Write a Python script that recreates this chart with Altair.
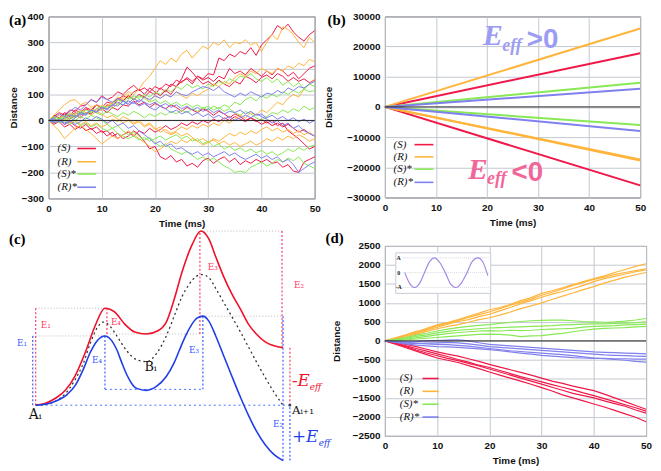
import altair as alt
import pandas as pd

FONT = "Liberation Sans"
SERIF = "Liberation Serif"
MATH = "DejaVu Serif"

SERIES = ["(S)", "(R)", "(S)*", "(R)*"]
COLORS = ["#f01848", "#ffb43c", "#88e855", "#8080ee"]
TICKS_X = [0, 10, 20, 30, 40, 50]
A_TICKS_Y = [-300, -200, -100, 0, 100, 200, 300, 400]
B_TICKS_Y = [-30000, -20000, -10000, 0, 10000, 20000, 30000]
D_TICKS_Y = [-2500, -2000, -1500, -1000, -500, 0, 500, 1000, 1500, 2000, 2500]

# ---------------- (a) random walks, one value per ms (0..50) ----------------
A_S1 = [0, 15, 30, 20, 40, 35, 55, 60, 80, 70, 95, 80, 90, 110, 100, 120, 135, 115, 125, 110,
        130, 120, 140, 130, 155, 145, 165, 150, 170, 160, 180, 175, 240, 230, 255, 245, 265, 255, 280, 250,
        290, 310, 330, 365, 350, 370, 340, 320, 305, 330, 345]
A_S2 = [0, -10, 10, 25, 15, 30, 20, 45, 35, 60, 50, 70, 65, 85, 75, 95, 80, 100, 90, 110,
        100, 125, 110, 140, 130, 150, 160, 140, 170, 155, 165, 150, 170, 160, 200, 180, 190, 175, 200, 185,
        170, 190, 175, 200, 190, 170, 185, 160, 180, 200, 210]
A_S3 = [0, 10, -5, 15, 5, 20, 10, 30, 25, 45, 40, 60, 55, 80, 95, 85, 110, 120, 100, 125,
        110, 95, 115, 100, 130, 160, 205, 185, 160, 140, 150, 135, 155, 140, 130, 150, 140, 170, 160, 145,
        165, 175, 160, 180, 170, 150, 165, 150, 160, 145, 155]
A_S4 = [0, -10, 5, -15, -5, -20, -30, -15, -35, -25, -45, -40, -60, -50, -70, -60, -40, -55, -80, -110,
        -100, -140, -150, -135, -160, -150, -175, -165, -180, -155, -145, -165, -150, -140, -160, -145, -170, -155, -165, -150,
        -160, -150, -165, -160, -180, -170, -195, -200, -160, -150, -140]
A_S5 = [0, 20, 10, 30, 20, 40, 30, 50, 40, 60, 45, 30, 50, 40, 60, 55, 75, 60, 70, 50,
        65, 55, 45, 60, 50, 35, 50, 40, 30, 45, 35, 20, 35, 25, 10, 25, 15, 0, 10, -5,
        5, -10, 0, -20, -10, -40, -55, -70, -90, -110, -100]
A_S6 = [0, -15, -5, -25, -15, -35, -20, -40, -30, -50, -40, -60, -45, -70, -55, -45, -60, -40, -50, -30,
        -45, -35, -20, -35, -25, -10, -20, -5, -15, 0, -10, 5, -5, 10, 0, 15, 5, -5, 10, 0,
        -15, -5, -20, -10, -25, -15, -30, -45, -35, -50, -60]
A_R1 = [0, 20, 40, 60, 75, 80, 60, 70, 50, 60, 40, 55, 70, 60, 90, 110, 100, 120, 150, 170,
        200, 230, 215, 240, 225, 255, 270, 240, 265, 285, 275, 300, 290, 310, 280, 300, 295, 310, 290, 300,
        265, 300, 330, 310, 360, 350, 330, 300, 280, 320, 300]
A_R2 = [0, -10, 10, 0, 20, 10, 30, 25, 45, 35, 60, 50, 70, 90, 80, 100, 85, 70, 90, 75,
        95, 85, 100, 90, 110, 95, 85, 105, 95, 110, 120, 140, 130, 150, 140, 165, 180, 170, 190, 180,
        200, 190, 180, 200, 190, 210, 200, 220, 210, 235, 225]
A_R3 = [0, -20, -40, -70, -50, -30, -20, -35, -50, -70, -90, -75, -60, -70, -55, -40, -55, -70, -85, -100,
        -120, -110, -95, -80, -90, -75, -85, -70, -80, -95, -85, -70, -80, -65, -50, -60, -45, -55, -40, -50,
        -35, -25, -40, -30, -45, -35, -50, -40, -55, -45, -60]
A_R4 = [0, 10, -5, 5, -10, 0, -15, -5, -20, -10, -25, -15, 5, -5, 15, 5, -10, 0, -20, -10,
        -30, -45, -35, -50, -40, -25, -35, -20, -30, -15, -25, -10, -20, 0, -10, 5, 20, 10, 30, 20,
        40, 30, 50, 70, 60, 85, 100, 90, 120, 140, 160]
A_R5 = [0, 5, 20, 10, 30, 20, 40, 30, 20, 35, 25, 10, 20, 5, -10, 0, -15, -5, -25, -15,
        -35, -25, -45, -55, -45, -60, -50, -65, -80, -70, -85, -75, -90, -80, -95, -85, -100, -90, -80, -95,
        -85, -70, -80, -65, -75, -60, -70, -55, -65, -80, -70]
A_G1 = [0, 10, 0, 15, 25, 15, 30, 20, 35, 30, 45, 55, 45, 65, 60, 80, 95, 85, 100, 90,
        110, 100, 120, 110, 130, 120, 140, 125, 135, 120, 140, 130, 150, 140, 160, 150, 170, 165, 180, 160,
        150, 165, 145, 160, 135, 150, 130, 145, 120, 140, 130]
A_G2 = [0, -5, 10, 5, 20, 10, 25, 40, 30, 45, 55, 45, 65, 80, 70, 90, 80, 95, 85, 70,
        80, 65, 75, 60, 70, 55, 65, 50, 60, 45, 55, 40, 50, 35, 45, 30, 20, 35, 25, 10,
        0, 15, 30, 25, 40, 30, 45, 35, 55, 40, 50]
A_G3 = [0, -10, 5, -5, 10, 0, 15, 5, 20, 10, 0, -15, -30, -20, -40, -55, -45, -60, -75, -65,
        -85, -100, -90, -110, -120, -130, -120, -135, -150, -140, -155, -145, -160, -175, -185, -200, -195, -200, -180, -170,
        -160, -175, -165, -150, -160, -145, -155, -140, -165, -175, -185]
A_G4 = [0, 5, -10, 0, -15, -5, -20, -10, -25, -15, -30, -40, -30, -50, -60, -70, -60, -75, -65, -80,
        -70, -60, -75, -65, -55, -70, -60, -80, -70, -90, -80, -100, -90, -110, -100, -115, -105, -120, -110, -125,
        -115, -130, -120, -135, -125, -110, -120, -105, -115, -100, -95]
A_G5 = [0, 15, 5, 20, 10, 25, 35, 25, 40, 30, 20, 35, 25, 15, 30, 20, 35, 25, 10, 25,
        15, 30, 20, 35, 25, 40, 30, 45, 35, 50, 40, 55, 45, 60, 50, 70, 60, 80, 90, 75,
        95, 85, 100, 90, 110, 100, 115, 105, 120, 110, 115]
A_B1 = [0, -10, 0, -15, -5, 10, 25, 20, 40, 30, 50, 40, 60, 55, 75, 65, 85, 70, 90, 80,
        95, 85, 100, 90, 110, 100, 95, 110, 120, 130, 125, 115, 130, 110, 100, 90, 105, 95, 110, 100,
        90, 105, 100, 115, 105, 125, 115, 130, 125, 140, 150]
A_B2 = [0, 5, -5, 10, 20, 15, 30, 25, 40, 35, 50, 45, 60, 70, 60, 75, 65, 80, 70, 60,
        70, 55, 65, 50, 60, 45, 55, 40, 50, 35, 45, 30, 40, 25, 35, 30, 40, 25, 35, 20,
        25, 10, 20, 5, 15, 0, 10, -5, 5, -10, 0]
A_B3 = [0, -5, 5, -10, 0, -15, -5, 10, 0, 15, 5, -10, 0, -20, -10, -30, -20, -40, -55, -70,
        -90, -80, -100, -90, -110, -105, -120, -130, -120, -135, -125, -140, -130, -120, -135, -125, -140, -150, -140, -130,
        -145, -135, -150, -140, -160, -150, -170, -200, -185, -170, -160]
A_B4 = [0, 10, 25, 15, 35, 50, 40, 60, 80, 70, 90, 80, 70, 85, 75, 60, 70, 55, 65, 50,
        40, 55, 45, 30, 40, 25, 35, 20, 30, 15, 25, 10, 20, 5, 15, 0, 10, 20, 10, 25,
        15, 5, -10, 0, -20, -10, -30, -20, -40, -50, -60]
A_TRACES = {"(S)": [A_S1, A_S2, A_S3, A_S4, A_S5, A_S6],
            "(R)": [A_R1, A_R2, A_R3, A_R4, A_R5],
            "(S)*": [A_G1, A_G2, A_G3, A_G4, A_G5],
            "(R)*": [A_B1, A_B2, A_B3, A_B4]}

# ---------------- (b) end values of the straight drifts at 50 ms ----------------
B_END = {"(S)": [17800, -26000], "(R)": [26000, -17800, -17400],
         "(S)*": [8000, -6000], "(R)*": [6000, -8000]}

# ---------------- (d) walks under oscillating field, one value per 2 ms ----------------
D_R1 = [0, -40, -90, -150, -220, -290, -350, -400, -470, -540, -620, -690, -760, -830, -900, -980, -1060, -1120, -1190, -1250, -1310, -1400, -1500, -1600, -1700, -1800]
D_R2 = [0, -60, -130, -200, -270, -340, -410, -490, -560, -640, -700, -780, -860, -940, -1010, -1080, -1150, -1220, -1290, -1370, -1440, -1520, -1600, -1680, -1760, -1850]
D_R3 = [0, -70, -150, -240, -320, -390, -460, -520, -590, -660, -740, -820, -900, -980, -1060, -1140, -1220, -1300, -1380, -1440, -1500, -1580, -1650, -1720, -1820, -1900]
D_R4 = [0, -90, -180, -270, -360, -450, -510, -570, -650, -730, -820, -900, -980, -1060, -1140, -1230, -1320, -1420, -1500, -1580, -1660, -1740, -1830, -1920, -2010, -2130]
D_O1 = [0, 60, 150, 230, 330, 420, 480, 560, 650, 730, 820, 880, 960, 1060, 1140, 1250, 1320, 1400, 1480, 1560, 1640, 1710, 1800, 1880, 1960, 2030]
D_O2 = [0, 80, 160, 250, 300, 400, 460, 540, 620, 690, 760, 850, 940, 1020, 1100, 1200, 1280, 1370, 1460, 1540, 1620, 1680, 1750, 1800, 1850, 1900]
D_O3 = [0, 70, 140, 200, 290, 360, 440, 510, 560, 640, 700, 790, 880, 980, 1060, 1150, 1230, 1300, 1380, 1460, 1560, 1640, 1700, 1760, 1820, 1870]
D_O4 = [0, 50, 110, 180, 250, 320, 380, 430, 490, 560, 610, 680, 760, 850, 920, 1000, 1090, 1180, 1260, 1350, 1430, 1520, 1600, 1680, 1740, 1800]
D_G1 = [0, 40, 90, 150, 200, 260, 310, 350, 380, 410, 430, 460, 490, 510, 530, 540, 550, 545, 530, 510, 500, 490, 500, 520, 550, 590]
D_G2 = [0, 30, 70, 120, 160, 210, 250, 280, 300, 320, 340, 350, 360, 370, 380, 390, 400, 420, 430, 440, 450, 450, 460, 470, 480, 500]
D_G3 = [0, 20, 50, 80, 120, 160, 190, 220, 240, 260, 270, 260, 280, 270, 280, 300, 310, 320, 330, 360, 380, 390, 400, 420, 430, 440]
D_G4 = [0, 10, 30, 50, 70, 90, 110, 130, 150, 170, 180, 170, 150, 110, 130, 140, 170, 200, 240, 280, 310, 330, 340, 350, 370, 380]
D_B1 = [0, -20, -30, -20, 0, 10, 20, 30, 0, -50, -90, -110, -130, -150, -170, -190, -210, -230, -250, -270, -290, -300, -310, -320, -330, -340]
D_B2 = [0, -30, -60, -70, -60, -50, -40, -50, -80, -110, -150, -170, -190, -210, -230, -250, -270, -290, -310, -330, -350, -370, -380, -390, -400, -410]
D_B3 = [0, -40, -80, -110, -130, -150, -160, -170, -190, -210, -230, -260, -290, -320, -350, -380, -400, -420, -440, -450, -460, -460, -470, -470, -480, -480]
D_B4 = [0, -20, -40, -60, -80, -90, -100, -120, -140, -170, -200, -230, -260, -280, -300, -320, -340, -360, -390, -420, -450, -470, -490, -510, -540, -560]
D_TRACES = {"(S)": [D_R1, D_R2, D_R3, D_R4], "(R)": [D_O1, D_O2, D_O3, D_O4],
            "(S)*": [D_G1, D_G2, D_G3, D_G4], "(R)*": [D_B1, D_B2, D_B3, D_B4]}

# inset sine: horizontal position (px on the page) and amplitude
SINE_PX = [408, 413, 418, 423, 428, 433, 438, 443, 449, 454, 460, 465, 471, 476, 482, 487, 492]
SINE_AMP = [0, -0.72, -1, -0.72, 0, 0.72, 1, 0.72, 0, -0.72, -1, -0.72, 0, 0.72, 1, 0.72, -0.2]

# ---------------- (c) energy profiles: reaction coordinate, energy ----------------
C_RED_X = [0, 10, 20, 30, 40, 50, 60, 70, 80, 90, 100, 112, 123, 132, 140, 148, 158, 167, 175, 182, 190, 198, 207, 215, 223, 232, 241, 250]
C_RED_E = [0, 2, 7, 15, 30, 53, 80, 98, 94, 82, 74, 72, 75, 84, 107, 135, 162, 176, 168, 150, 130, 113, 97, 82, 72, 64, 60, 58]
C_BLUE_X = [0, 10, 20, 32, 40, 48, 55, 62, 70, 77, 82, 87, 92, 97, 102, 112, 122, 132, 140, 145, 152, 158, 163, 169, 175, 182, 190, 198, 207, 215, 223, 232, 241, 250]
C_BLUE_E = [0, 1, 4, 11, 20, 36, 53, 65, 70, 65, 56, 43, 31, 22, 17, 15, 19, 29, 43, 55, 71, 82, 88, 90, 85, 70, 50, 30, 8, -10, -26, -40, -50, -56]
C_BLK_X = [0, 10, 20, 32, 40, 48, 55, 62, 68, 75, 82, 92, 102, 112, 122, 132, 140, 148, 155, 162, 168, 175, 182, 190, 198, 207, 215, 223, 232, 241, 250]
C_BLK_E = [0, 1, 4, 14, 26, 42, 62, 78, 84, 80, 70, 55, 46, 44, 52, 70, 90, 110, 122, 130, 132, 129, 118, 104, 90, 74, 59, 44, 28, 13, 0]

C_GRAY_H = [(98, 0, 72), (70, -3, 70), (72, 72, 166), (176, 167, 250), (90, 169, 250)]
C_BLUE_H = [(16, 70, 169), (0, 0, 257)]
C_RED_V = [(0, 0, 98), (72, 72, 98), (166, 72, 176), (249, 58, 176), (257, 0, 58)]
C_BLUE_V = [(-3, 0, 70), (70, 16, 70), (169, 16, 90), (250, -56, 90), (257, -56, 0)]
C_E_LABELS = [("E\u2081", 5, 81, "#ff3d62"), ("E\u2081", -19, 63, "#3c5cff"),
              ("E\u2084", 76, 84, "#ff3d62"), ("E\u2084", 57, 46, "#3c5cff"),
              ("E\u2083", 174, 140, "#ff3d62"), ("E\u2083", 155, 56, "#3c5cff"),
              ("E\u2082", 261, 121, "#ff3d62"), ("E\u2082", 240, -19, "#3c5cff")]
C_STATE_LABELS = [("B\u1d62", 110, 39, 13), ("A\u1d62", -7, -10, 14), ("A\u1d62\u208a\u2081", 259, -5, 12)]

# layout (pixels)
COL1_W, COL_GAP = 276, 64
ROW1_H, ROW_GAP = 184, 48
D_W, D_H = 264, 192
C_H = 222


def traces_df(traces, dt):
    rows = []
    for s, lst in traces.items():
        for k, vals in enumerate(lst):
            for i, v in enumerate(vals):
                rows.append(dict(series=s, trace=f"{s}-{k}", t=i * dt, v=v))
    return pd.DataFrame(rows)


def color_enc():
    return alt.Color("series:N", scale=alt.Scale(domain=SERIES, range=COLORS), legend=None)


def trace_panel(df, ydom, yticks, ext, tpad, lw, leg_v, leg_t, leg_t1, leg_t2, label, label_dx, label_dy):
    xs = alt.Scale(domain=[0, 50], nice=False, zero=False)
    ys = alt.Scale(domain=ydom, nice=False, zero=False)
    xa = alt.Axis(values=TICKS_X, title="Time (ms)", titlePadding=5, format="d")
    ya = alt.Axis(values=yticks, title="Distance", minExtent=ext, maxExtent=ext, titlePadding=tpad, format="d")

    def X(f):
        return alt.X(f"{f}:Q", scale=xs, axis=xa, title="Time (ms)")

    def Y(f):
        return alt.Y(f"{f}:Q", scale=ys, axis=ya, title="Distance")

    lines = alt.Chart(df).mark_line(strokeWidth=lw).encode(x=X("t"), y=Y("v"), color=color_enc(), detail="trace:N")
    zero = alt.Chart(pd.DataFrame({"v": [0]})).mark_rule(color="#222", strokeWidth=1).encode(y=Y("v"))
    leg = pd.DataFrame({"series": SERIES, "v": leg_v, "tt": [leg_t] * 4, "t1": [leg_t1] * 4, "t2": [leg_t2] * 4})
    leg_text = alt.Chart(leg).mark_text(align="left", baseline="middle", font=SERIF, fontSize=11,
                                        fontStyle="italic", color="#111").encode(
        x=X("tt"), y=Y("v"), text="series:N")
    leg_line = alt.Chart(leg).mark_rule(strokeWidth=1.6).encode(
        x=X("t1"), x2="t2:Q", y=Y("v"), color=color_enc())
    lab = alt.Chart(pd.DataFrame({"l": [label]})).mark_text(
        align="left", baseline="top", font=SERIF, fontSize=15, fontWeight="bold", color="black").encode(
        x=alt.value(label_dx), y=alt.value(label_dy), text="l:N")
    return [lines, zero, leg_text, leg_line, lab], X, Y


# ---------- panel (a)
dfa = traces_df(A_TRACES, 1)
a_layers, _, _ = trace_panel(dfa, [-300, 400], A_TICKS_Y, 26, 4, 1.0,
                             [-108, -159, -206, -257], 1.7, 5.4, 8.9, "(a)", -40, -3)
panel_a = alt.layer(*a_layers).properties(width=269, height=ROW1_H)

# ---------- panel (b)
rows = []
for s, ends in B_END.items():
    for k, e in enumerate(ends):
        rows.append(dict(series=s, trace=f"{s}-{k}", t=0, v=0))
        rows.append(dict(series=s, trace=f"{s}-{k}", t=50, v=e))
dfb = pd.DataFrame(rows)
b_layers, BX, BY = trace_panel(dfb, [-30000, 30000], B_TICKS_Y, 37, 15, 2.0,
                               [-12500, -16560, -20625, -25000], 1.7, 5.8, 9.5, "(b)", -58, -3)


def eeff(t_e, v_e, t_s, v_s, t_r, v_r, rel, color):
    e_df = pd.DataFrame({"t": [t_e], "v": [v_e], "s": ["E"]})
    r_df = pd.DataFrame({"t": [t_r], "v": [v_r], "s": [rel]})
    sub = pd.DataFrame({"t": [t_s], "v": [v_s], "s": ["eff"]})
    l1 = alt.Chart(e_df).mark_text(align="left", baseline="top", font=SERIF, fontSize=30,
                                   fontWeight="bold", fontStyle="italic", color=color).encode(
        x=BX("t"), y=BY("v"), text="s:N")
    l2 = alt.Chart(sub).mark_text(align="left", baseline="alphabetic", font=SERIF, fontSize=18,
                                  fontWeight="bold", fontStyle="italic", color=color).encode(
        x=BX("t"), y=BY("v"), text="s:N")
    l3 = alt.Chart(r_df).mark_text(align="left", baseline="top", font=FONT, fontSize=28,
                                   fontWeight="bold", color=color).encode(
        x=BX("t"), y=BY("v"), text="s:N")
    return [l1, l2, l3]


b_layers += eeff(19.2, 28400, 23.0, 18600, 27.8, 26900, ">0", "#9c9cf2")
b_layers += eeff(16.3, -15900, 20.0, -25600, 24.8, -17400, "<0", "#f2679a")
panel_b = alt.layer(*b_layers).properties(width=258, height=ROW1_H - 1)

# ---------- panel (c): plot area starts at page x 48 (rc 13), y 247 (E 161); marks may spill outside
cx = alt.Scale(domain=[13, 13 + COL1_W], nice=False, zero=False)
cy = alt.Scale(domain=[161 - C_H, 161], nice=False, zero=False)


def cline(xs, es, color, width, dash=None):
    kw = dict(color=color, strokeWidth=width, interpolate="monotone")
    if dash:
        kw["strokeDash"] = dash
    return alt.Chart(pd.DataFrame({"rc": xs, "e": es})).mark_line(**kw).encode(
        x=alt.X("rc:Q", scale=cx, axis=None), y=alt.Y("e:Q", scale=cy, axis=None))


def hrules(items, color, dash):
    df = pd.DataFrame(items, columns=["e", "x1", "x2"])
    return alt.Chart(df).mark_rule(color=color, strokeDash=dash, strokeWidth=1).encode(
        x=alt.X("x1:Q", scale=cx, axis=None), x2="x2:Q", y=alt.Y("e:Q", scale=cy, axis=None))


def vrules(items, color, dash):
    df = pd.DataFrame(items, columns=["rc", "e1", "e2"])
    return alt.Chart(df).mark_rule(color=color, strokeDash=dash, strokeWidth=1.2).encode(
        x=alt.X("rc:Q", scale=cx, axis=None), y=alt.Y("e1:Q", scale=cy, axis=None), y2="e2:Q")


c_layers = [
    hrules(C_GRAY_H, "#b8b8b8", [1, 2]),
    hrules(C_BLUE_H, "#4a6cff", [2, 3]),
    vrules(C_RED_V, "#ff3d62", [2, 2]),
    vrules(C_BLUE_V, "#3c5cff", [2, 2]),
    cline(C_BLK_X, C_BLK_E, "#333333", 1.3, [2, 3]),
    cline(C_RED_X, C_RED_E, "#f0102a", 1.6),
    cline(C_BLUE_X, C_BLUE_E, "#1f3ee6", 1.6),
]
elab = pd.DataFrame(C_E_LABELS, columns=["s", "rc", "e", "c"])
c_layers.append(alt.Chart(elab).mark_text(align="left", baseline="middle", font=MATH, fontSize=9).encode(
    x=alt.X("rc:Q", scale=cx, axis=None), y=alt.Y("e:Q", scale=cy, axis=None), text="s:N",
    color=alt.Color("c:N", scale=None)))
for s, rcv, ev, fs in C_STATE_LABELS:
    c_layers.append(alt.Chart(pd.DataFrame({"s": [s], "rc": [rcv], "e": [ev]})).mark_text(
        align="left", baseline="middle", font=MATH, fontSize=fs, color="#111").encode(
        x=alt.X("rc:Q", scale=cx, axis=None), y=alt.Y("e:Q", scale=cy, axis=None), text="s:N"))
for sign, color, e_big, e_sub, rc_sub in [("-E", "#f0102a", 19, 15, 277), ("+E", "#1f3ee6", -37, -41, 286)]:
    c_layers.append(alt.Chart(pd.DataFrame({"s": [sign], "rc": [259], "e": [e_big]})).mark_text(
        align="left", baseline="alphabetic", font=MATH, fontSize=17, fontStyle="italic", color=color).encode(
        x=alt.X("rc:Q", scale=cx, axis=None), y=alt.Y("e:Q", scale=cy, axis=None), text="s:N"))
    c_layers.append(alt.Chart(pd.DataFrame({"s": ["eff"], "rc": [rc_sub], "e": [e_sub]})).mark_text(
        align="left", baseline="alphabetic", font=MATH, fontSize=9, fontStyle="italic", color=color).encode(
        x=alt.X("rc:Q", scale=cx, axis=None), y=alt.Y("e:Q", scale=cy, axis=None), text="s:N"))
c_layers.append(alt.Chart(pd.DataFrame({"rc": [257], "e": [0]})).mark_point(
    shape="square", size=6, filled=True, color="#111").encode(
    x=alt.X("rc:Q", scale=cx, axis=None), y=alt.Y("e:Q", scale=cy, axis=None)))
c_layers.append(alt.Chart(pd.DataFrame({"l": ["(c)"]})).mark_text(
    align="left", baseline="top", font=SERIF, fontSize=15, fontWeight="bold", color="black").encode(
    x=alt.value(-40), y=alt.value(-14), text="l:N"))
panel_c = alt.layer(*c_layers).properties(width=COL1_W, height=C_H,
                                          view=alt.ViewBackground(stroke="transparent"))

# ---------- panel (d)
dfd = traces_df(D_TRACES, 2)
d_layers, DX, DY = trace_panel(dfd, [-2500, 2500], D_TICKS_Y, 31, 13, 1.2,
                               [-990, -1328, -1667, -2005], 2.85, 7.2, 10.3, "(d)", -60, -15)

# inset placement inside panel (d) (page-pixel layout converted to the panel's data units)
D_LEFT, D_TOP = 48 + COL1_W + COL_GAP, 247
PX_PER_MS = D_W / 50
UNITS_PER_PX = 5000 / D_H


def px_t(px):
    return (px - D_LEFT) / PX_PER_MS


def py_v(py):
    return 2500 - (py - D_TOP) * UNITS_PER_PX


INSET_MID, INSET_AMP = py_v(274), 15 * UNITS_PER_PX
box = pd.DataFrame({"t1": [px_t(399)], "t2": [px_t(495)], "v1": [py_v(254)], "v2": [py_v(295)]})
d_layers.insert(0, alt.Chart(box).mark_rect(fill="white", stroke="#c4cbd9", strokeWidth=1).encode(
    x=DX("t1"), x2="t2:Q", y=DY("v1"), y2="v2:Q"))
igrid = pd.DataFrame({"t1": [px_t(406)] * 3, "t2": [px_t(494)] * 3,
                      "v": [INSET_MID + INSET_AMP, INSET_MID, INSET_MID - INSET_AMP]})
d_layers.append(alt.Chart(igrid).mark_rule(color="#d6d9e2", strokeDash=[1, 1]).encode(
    x=DX("t1"), x2="t2:Q", y=DY("v")))
sine = pd.DataFrame({"t": [px_t(p) for p in SINE_PX], "v": [INSET_MID + a * INSET_AMP for a in SINE_AMP]})
d_layers.append(alt.Chart(sine).mark_line(color="#a48ae6", strokeWidth=1.2, interpolate="monotone").encode(
    x=DX("t"), y=DY("v")))
ilab = pd.DataFrame({"t": [px_t(402)] * 3, "v": [INSET_MID + INSET_AMP, INSET_MID, INSET_MID - INSET_AMP],
                     "s": ["A", "0", "-A"]})
d_layers.append(alt.Chart(ilab).mark_text(font=SERIF, fontSize=6, fontWeight="bold", color="#222").encode(
    x=DX("t"), y=DY("v"), text="s:N"))
panel_d = alt.layer(*d_layers).properties(width=D_W, height=D_H)

chart = alt.concat(panel_a, panel_b, panel_c, panel_d, columns=2, bounds="flush",
                   spacing=alt.RowColnumber(row=ROW_GAP, column=COL_GAP)).properties(padding=0).configure_view(
    stroke="#444", strokeWidth=1).configure_axis(
    labelFont=FONT, labelFontSize=10, labelFontWeight="bold", labelColor="#111",
    titleFont=FONT, titleFontSize=10, titleFontWeight="bold", titleColor="#111",
    tickSize=0, domain=False, gridColor="#c3c7cf", gridWidth=1, labelPadding=5, labelFlush=False)

chart.save("out.html", embed_options={"renderer": "svg", "actions": False})
